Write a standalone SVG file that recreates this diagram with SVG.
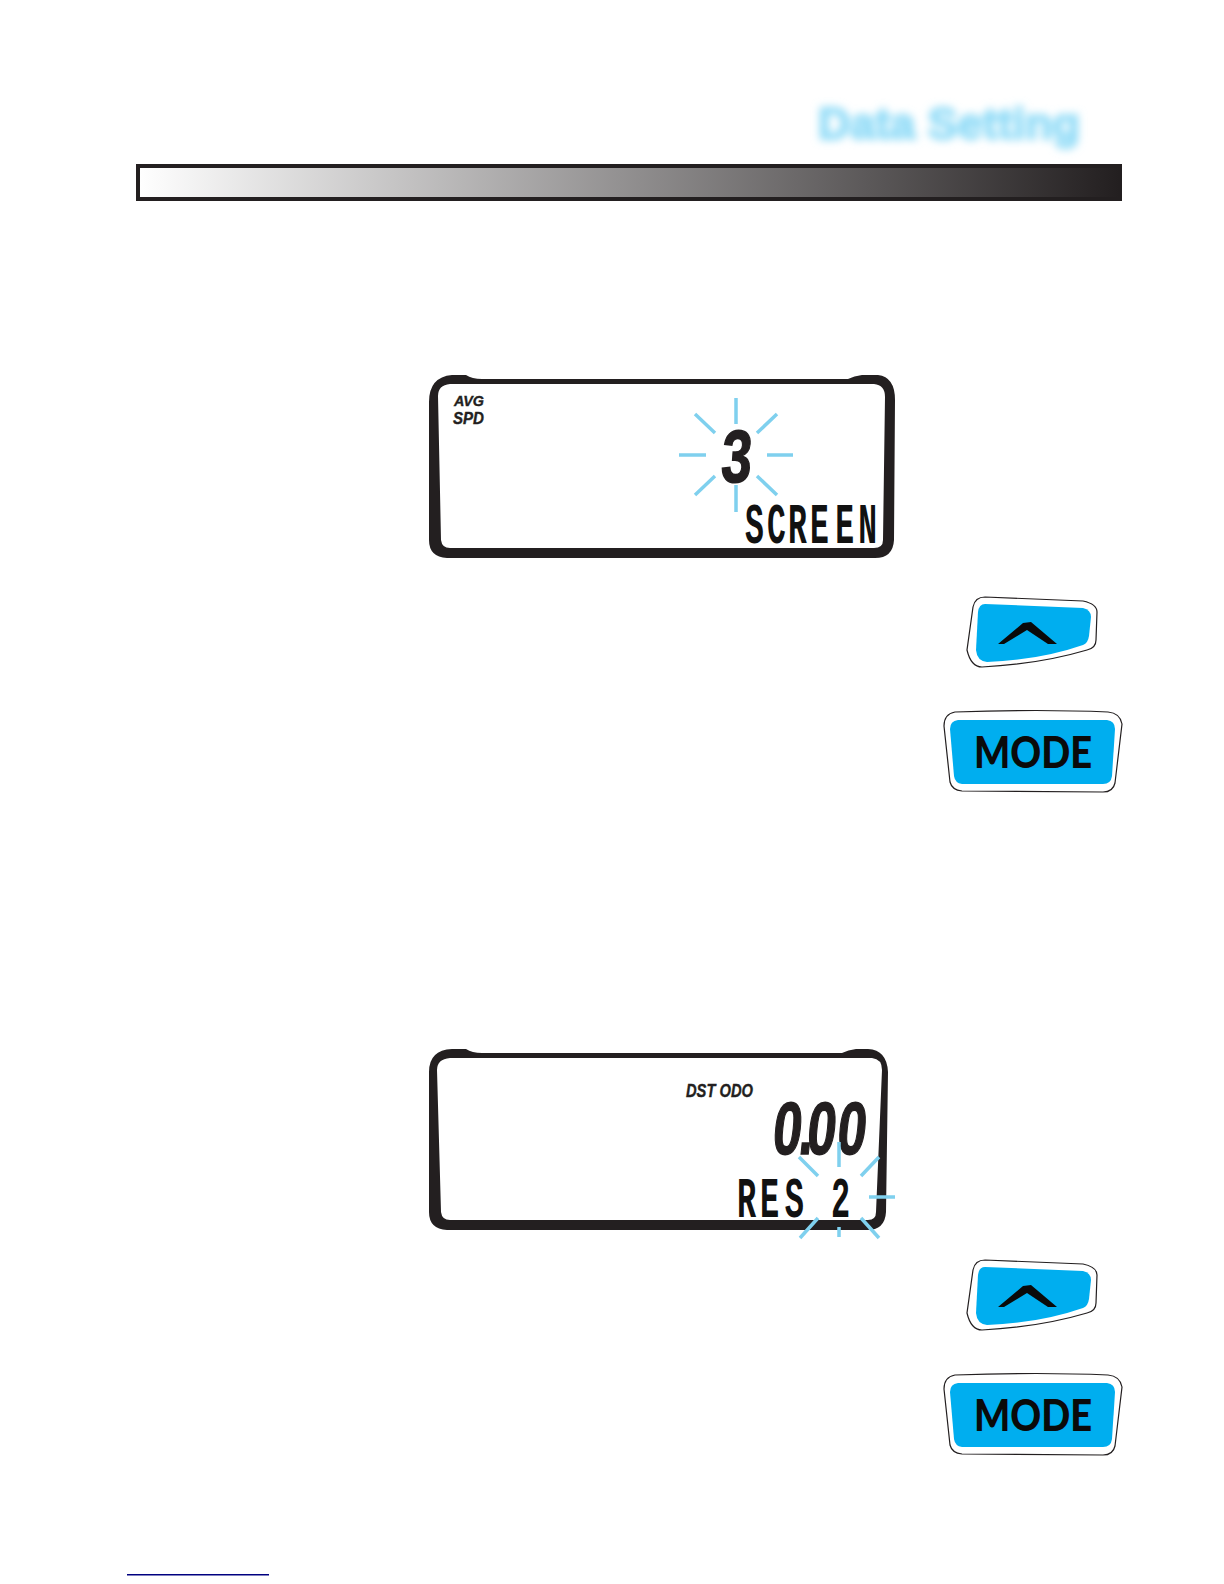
<svg xmlns="http://www.w3.org/2000/svg" width="1224" height="1584" viewBox="0 0 1224 1584">
<style>
.lcd{fill:#231f20;fill-rule:evenodd}
.ray{stroke:#7fd0ee;stroke-width:3.5;fill:none}
.label{font-family:"Liberation Sans",Arial,sans-serif;font-weight:bold;font-style:italic;fill:#231f20;stroke:#231f20;stroke-width:.4}
.seg{font-family:"Liberation Mono","DejaVu Sans Mono",monospace;font-weight:bold;fill:#111}
.big{font-family:"Liberation Sans",Arial,sans-serif;font-weight:bold;fill:#231f20;stroke:#231f20;stroke-width:1.5}
.btno{fill:#fff;stroke:#231f20;stroke-width:1.2}
.btni{fill:#00aeef}
.mode{font-family:Lato,"Liberation Sans",Arial,sans-serif;font-weight:900;font-size:44px;fill:#0a0a0a}
</style>
<defs>
<linearGradient id="barGrad"><stop offset="0" stop-color="#fff"/><stop offset="1" stop-color="#231f20"/></linearGradient>
<filter id="blur" x="-10%" y="-40%" width="120%" height="180%"><feGaussianBlur stdDeviation="4.5"/></filter>
<g id="upBtn">
<path class="btno" d="M985,597 L1083,601 Q1097,604 1097,612 L1096,640 Q1096,648 1087,650 Q1040,664 982,667 Q971,667 967,650 L973,607 Q975,597 985,597 Z"/>
<path class="btni" d="M985,604 L1083,608 Q1091,610 1091,617 L1089,636 Q1088,643 1083,645 Q1040,660 987,662 Q977,661 976,650 L978,612 Q979,604 985,604 Z"/>
<path fill="#0a0a0a" d="M998,644 L1023,623 L1031,622 L1057,644 L1048,644 L1027,630 L1004,644 Z"/>
</g>
<g id="modeBtn">
<path class="btno" d="M955,712 Q1040,709 1108,712 Q1120,713 1122,724 L1115,783 Q1113,792 1103,792 L962,791 Q952,790 950,782 L944,726 Q944,714 955,712 Z"/>
<path class="btni" d="M958,720 L1107,720 Q1115,721 1115,729 L1112,776 Q1111,784 1103,784 L962,784 Q955,783 954,776 L950,729 Q950,721 958,720 Z"/>
<text class="mode" x="974" y="768" textLength="118" lengthAdjust="spacingAndGlyphs">MODE</text>
</g>
</defs>
<rect width="1224" height="1584" fill="#fff"/>
<g id="title"><text x="818" y="139" font-family="Liberation Sans,Arial,sans-serif" font-weight="bold" font-size="45" fill="#8fdbf7" stroke="#8fdbf7" stroke-width="2" filter="url(#blur)" textLength="262" lengthAdjust="spacingAndGlyphs">Data Setting</text></g>
<g id="bar"><rect x="138" y="166" width="982" height="33" fill="url(#barGrad)" stroke="#231f20" stroke-width="4"/></g>
<g id="lcd1">
<path class="lcd" d="M429,402 Q429,377 452,375 L466,375 Q472,379 482,379 L848,379 Q854,376 862,375 L878,375 Q895,377 895,400 L894,540 Q893,558 875,558 L447,558 Q429,557 429,540 Z M438,396 L441,540 Q442,548 450,548 L874,548 Q883,548 883,540 L885,397 Q885,385 874,384 L450,384 Q438,385 438,396 Z"/>
<text class="label" font-size="15.5" x="454" y="406" textLength="30" lengthAdjust="spacingAndGlyphs">AVG</text>
<text class="label" font-size="16.5" x="453" y="424" textLength="31" lengthAdjust="spacingAndGlyphs">SPD</text>
<text class="big" font-size="74" transform="translate(720,482) skewX(-4) scale(.74,1)" x="0" y="0">3</text>
<text class="seg" font-size="57" transform="translate(745,543) scale(.55,1)" x="0 40 78 118 164 206" y="0">SCREEN</text>
<g class="ray"><path d="M736,398V424M736,485V512M679,455H706M767,455H793M695,414L715,433M777,414L757,433M695,495L715,476M777,495L757,476"/></g>
</g>
<g id="upButton1"><use href="#upBtn"/></g>
<g id="modeButton1"><use href="#modeBtn"/></g>
<g id="lcd2">
<path class="lcd" d="M429,1072 Q429,1050 452,1049 L466,1049 Q472,1053 482,1053 L842,1053 Q848,1050 856,1049 L868,1049 Q887,1050 888,1072 L886,1212 Q885,1230 867,1230 L447,1230 Q429,1229 429,1212 Z M437,1070 L441,1212 Q442,1220 450,1220 L868,1220 Q876,1220 876,1212 L882,1070 Q882,1059 872,1058 L450,1058 Q437,1059 437,1070 Z"/>
<text class="label" font-size="18" x="686" y="1097" textLength="67" lengthAdjust="spacingAndGlyphs">DST ODO</text>
<text class="big" font-size="74" transform="translate(771,1154) skewX(-6) scale(.7,1)" x="0 38 49 92" y="0">0.00</text>
<text class="seg" font-size="58" transform="translate(737,1217) scale(.55,1)" x="0 42 87 130 171" y="0">RES 2</text>
<g class="ray"><path d="M839,1142V1167M839,1227V1237M869,1197H895M799,1157L818,1176M879,1157L861,1176M818,1218L800,1238M861,1218L879,1238"/></g>
</g>
<g id="upButton2"><use href="#upBtn" y="663"/></g>
<g id="modeButton2"><use href="#modeBtn" y="663"/></g>
<g id="link"><rect x="127" y="1574" width="142" height="1.5" fill="#000080"/></g>
</svg>
